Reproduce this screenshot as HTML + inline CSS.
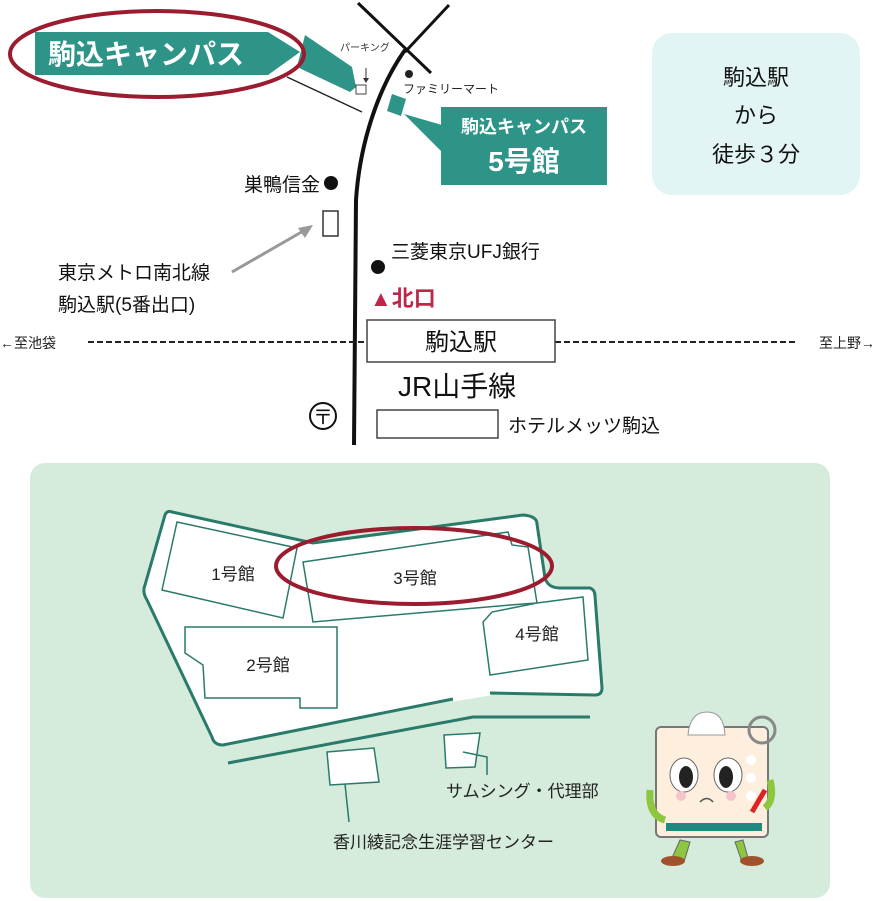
<!DOCTYPE html>
<html><head><meta charset="utf-8"><style>
html,body{margin:0;padding:0;background:#fff;}
svg{display:block;}
text{font-family:"Liberation Sans","Noto Sans CJK JP",sans-serif;}
</style></head><body>
<svg width="875" height="901" viewBox="0 0 875 901" xmlns="http://www.w3.org/2000/svg">
<line x1="358" y1="3" x2="431" y2="73" stroke="#111" stroke-width="3"/>
<line x1="449" y1="5" x2="405" y2="52" stroke="#111" stroke-width="3"/>
<path d="M405,50 C380,85 360,140 356,200 L354,445" fill="none" stroke="#111" stroke-width="4"/>
<line x1="287" y1="77" x2="362" y2="112" stroke="#222" stroke-width="1.5"/>
<polygon points="305,35 352,67 356,87 350,92 297,67" fill="#2e9488"/>
<rect x="356" y="85" width="10" height="9" fill="#fff" stroke="#444" stroke-width="1"/>
<text x="340" y="51" font-size="10" fill="#333">パーキング</text>
<line x1="366" y1="68" x2="366" y2="80" stroke="#333" stroke-width="1"/>
<polygon points="363,78 369,78 366,83" fill="#333"/>
<polygon points="35,32 268,32 300,52 268,75 35,75" fill="#2e9488"/>
<text x="48" y="64" font-size="28" font-weight="bold" fill="#fff">駒込キャンパス</text>
<ellipse cx="157" cy="54" rx="147" ry="43" fill="none" stroke="#9b1c2e" stroke-width="4"/>
<circle cx="409" cy="74" r="4" fill="#222"/>
<text x="403" y="93" font-size="12" fill="#222">ファミリーマート</text>
<polygon points="392,94 406,99 401,116 387,111" fill="#2e9488"/>
<polygon points="442,125 442,152 404,114" fill="#2e9488"/>
<rect x="441" y="107" width="166" height="78" fill="#2e9488"/>
<text x="524" y="133" font-size="18" font-weight="bold" fill="#fff" text-anchor="middle">駒込キャンパス</text>
<text x="524" y="171" font-size="28" font-weight="bold" fill="#fff" text-anchor="middle">5号館</text>
<text x="320" y="191" font-size="19" fill="#111" text-anchor="end">巣鴨信金</text>
<circle cx="331" cy="183" r="7" fill="#111"/>
<rect x="323" y="211" width="15" height="25" fill="#fff" stroke="#333" stroke-width="1.5"/>
<line x1="232" y1="272" x2="305" y2="230" stroke="#999" stroke-width="3"/>
<polygon points="313,225 298,228 305,238" fill="#999"/>
<text x="58" y="279" font-size="19" fill="#111">東京メトロ南北線</text>
<text x="58" y="311" font-size="19" fill="#111">駒込駅(5番出口)</text>
<text x="391" y="258" font-size="19" fill="#111">三菱東京UFJ銀行</text>
<circle cx="378" cy="267" r="7" fill="#111"/>
<text x="370" y="306" font-size="22" font-weight="bold" fill="#c0264a">▲北口</text>
<line x1="88" y1="342" x2="366" y2="342" stroke="#222" stroke-width="2" stroke-dasharray="6,3"/>
<line x1="555" y1="342" x2="795" y2="342" stroke="#222" stroke-width="2" stroke-dasharray="6,3"/>
<text x="0" y="348" font-size="14" fill="#222">←至池袋</text>
<text x="875" y="348" font-size="14" fill="#222" text-anchor="end">至上野→</text>
<rect x="367" y="320" width="188" height="42" fill="#fff" stroke="#444" stroke-width="1.5"/>
<text x="461" y="350" font-size="24" fill="#111" text-anchor="middle">駒込駅</text>
<text x="398" y="396" font-size="28" fill="#111">JR山手線</text>
<circle cx="323" cy="416" r="13" fill="#fff" stroke="#111" stroke-width="2"/>
<text x="323" y="424" font-size="20" fill="#111" text-anchor="middle">〒</text>
<rect x="377" y="410" width="121" height="28" fill="#fff" stroke="#444" stroke-width="1.5"/>
<text x="508" y="432" font-size="19" fill="#111">ホテルメッツ駒込</text>
<rect x="652" y="33" width="208" height="162" rx="20" fill="#e2f4f3"/>
<text x="756" y="85" font-size="22" fill="#111" text-anchor="middle">駒込駅</text>
<text x="756" y="123" font-size="22" fill="#111" text-anchor="middle">から</text>
<text x="756" y="162" font-size="22" fill="#111" text-anchor="middle">徒歩３分</text>
<rect x="30" y="463" width="800" height="435" rx="15" fill="#d5ebdc"/>
<path d="M172,512 L313,543 L523,515 Q537,516 537,524 L545,578 Q548,588 560,588 L590,588 Q595,590 595,596 L602,688 Q602,695 595,695 L490,693 L453,699 L223,745 Q214,745 212,737 L147,600 Q142,592 145,585 L165,515 Q167,510 172,512 Z" fill="#fff" stroke="#2a7a6a" stroke-width="3"/>
<line x1="453" y1="699" x2="490" y2="693" stroke="#fff" stroke-width="5"/>
<path d="M228,763 L473,717 L590,717" fill="none" stroke="#2a7a6a" stroke-width="3"/>
<g fill="#fff" stroke="#2a7a6a" stroke-width="1.5">
<polygon points="177,522 297,548 283,618 162,590"/>
<polygon points="303,562 508,532 512,545 528,547 537,603 510,605 313,622"/>
<polygon points="185,627 337,627 337,708 300,708 300,698 205,698 203,665 185,653"/>
<polygon points="483,622 492,612 537,603 583,597 588,660 490,675"/>
<polygon points="444,735 480,733 475,767 446,768"/>
<polygon points="327,752 374,748 379,782 330,785"/>
</g>
<text x="233" y="580" font-size="17" fill="#222" text-anchor="middle">1号館</text>
<text x="415" y="584" font-size="17" fill="#222" text-anchor="middle">3号館</text>
<text x="268" y="671" font-size="17" fill="#222" text-anchor="middle">2号館</text>
<text x="537" y="640" font-size="17" fill="#222" text-anchor="middle">4号館</text>
<ellipse cx="414" cy="566" rx="138" ry="38" fill="none" stroke="#9b1c2e" stroke-width="4"/>
<polyline points="463,752 487,757 487,775" fill="none" stroke="#2a7a6a" stroke-width="1.5"/>
<line x1="345" y1="784" x2="349" y2="822" stroke="#2a7a6a" stroke-width="1.5"/>
<text x="446" y="797" font-size="17" fill="#222">サムシング・代理部</text>
<text x="333" y="848" font-size="17" fill="#222">香川綾記念生涯学習センター</text>
<g>
<path d="M680,840 L672,858 L662,862 L684,862 L690,842 Z" fill="#8dc63f" stroke="#666"/>
<path d="M743,840 L748,858 L762,862 L742,862 L735,842 Z" fill="#8dc63f" stroke="#666"/>
<ellipse cx="673" cy="861" rx="12" ry="5" fill="#a0522d"/>
<ellipse cx="752" cy="861" rx="12" ry="5" fill="#a0522d"/>
<rect x="656" y="727" width="112" height="110" rx="5" fill="#fdeedd" stroke="#777" stroke-width="2"/>
<rect x="666" y="823" width="96" height="8" fill="#1f8a80"/>
<circle cx="762" cy="730" r="13" fill="none" stroke="#888" stroke-width="3"/>
<circle cx="751" cy="760" r="5" fill="#fff"/><circle cx="751" cy="778" r="5" fill="#fff"/><circle cx="751" cy="796" r="5" fill="#fff"/>
<path d="M688,735 Q690,712 707,712 Q724,712 725,735 Z" fill="#fff" stroke="#999"/>
<ellipse cx="684" cy="775" rx="14" ry="17" fill="#fff" stroke="#666"/>
<ellipse cx="728" cy="775" rx="14" ry="17" fill="#fff" stroke="#666"/>
<ellipse cx="686" cy="777" rx="7" ry="11" fill="#222"/>
<ellipse cx="726" cy="777" rx="7" ry="11" fill="#222"/>
<circle cx="681" cy="796" r="5" fill="#f6c5cc"/><circle cx="731" cy="796" r="5" fill="#f6c5cc"/>
<path d="M700,802 Q707,795 713,802" fill="none" stroke="#555" stroke-width="1.5"/>
<line x1="752" y1="812" x2="765" y2="790" stroke="#d22" stroke-width="5"/>
<path d="M650,790 Q648,815 665,820" fill="none" stroke="#8dc63f" stroke-width="7"/>
<path d="M770,780 Q775,800 765,808" fill="none" stroke="#8dc63f" stroke-width="7"/>
</g>
</svg>
</body></html>
